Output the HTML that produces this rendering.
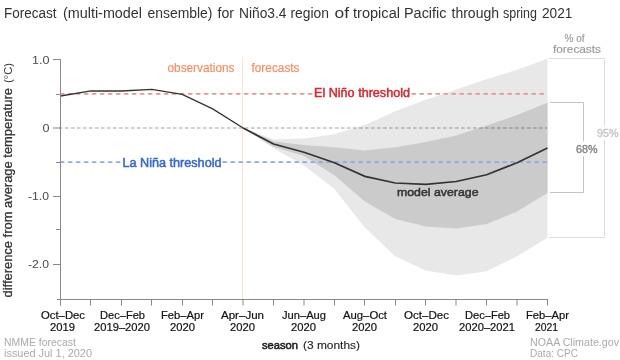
<!DOCTYPE html>
<html><head><meta charset="utf-8"><style>
html,body{margin:0;padding:0;background:#fff;}
svg{display:block;font-family:"Liberation Sans",sans-serif;will-change:transform;}
</style></head><body>
<svg width="620" height="360" viewBox="0 0 620 360">
<rect width="620" height="360" fill="#fff"/>
<g><text x="4.00" y="17.7" font-size="14" font-weight="normal" fill="#333" textLength="52.50" lengthAdjust="spacingAndGlyphs">Forecast</text><text x="63.00" y="17.7" font-size="14" font-weight="normal" fill="#333" textLength="79.00" lengthAdjust="spacingAndGlyphs">(multi-model</text><text x="147.50" y="17.7" font-size="14" font-weight="normal" fill="#333" textLength="65.00" lengthAdjust="spacingAndGlyphs">ensemble)</text><text x="217.50" y="17.7" font-size="14" font-weight="normal" fill="#333" textLength="16.50" lengthAdjust="spacingAndGlyphs">for</text><text x="239.00" y="17.7" font-size="14" font-weight="normal" fill="#333" textLength="47.50" lengthAdjust="spacingAndGlyphs">Niño3.4</text><text x="290.50" y="17.7" font-size="14" font-weight="normal" fill="#333" textLength="38.50" lengthAdjust="spacingAndGlyphs">region</text><text x="334.50" y="17.7" font-size="14" font-weight="normal" fill="#333" textLength="14.50" lengthAdjust="spacingAndGlyphs">of</text><text x="353.00" y="17.7" font-size="14" font-weight="normal" fill="#333" textLength="47.00" lengthAdjust="spacingAndGlyphs">tropical</text><text x="404.00" y="17.7" font-size="14" font-weight="normal" fill="#333" textLength="42.50" lengthAdjust="spacingAndGlyphs">Pacific</text><text x="451.50" y="17.7" font-size="14" font-weight="normal" fill="#333" textLength="47.50" lengthAdjust="spacingAndGlyphs">through</text><text x="503.00" y="17.7" font-size="14" font-weight="normal" fill="#333" textLength="34.00" lengthAdjust="spacingAndGlyphs">spring</text><text x="542.00" y="17.7" font-size="14" font-weight="normal" fill="#333" textLength="30.50" lengthAdjust="spacingAndGlyphs">2021</text></g>
<path d="M243.12,128.00 L273.56,139.30 L304.00,138.50 L334.44,134.20 L364.88,125.00 L395.31,111.20 L425.75,99.80 L456.19,89.40 L486.62,79.20 L517.06,69.80 L547.50,58.70 L547.50,237.70 L517.06,256.30 L486.62,271.20 L456.19,275.60 L425.75,270.40 L395.31,256.30 L364.88,227.60 L334.44,189.00 L304.00,165.50 L273.56,148.30 L243.12,128.00Z" fill="#e8e8e8"/>
<path d="M243.12,128.00 L273.56,141.60 L304.00,145.00 L334.44,147.30 L364.88,150.40 L395.31,147.20 L425.75,142.00 L456.19,135.50 L486.62,125.50 L517.06,115.00 L547.50,102.80 L547.50,193.00 L517.06,211.60 L486.62,224.00 L456.19,228.40 L425.75,226.50 L395.31,219.00 L364.88,201.50 L334.44,175.30 L304.00,156.00 L273.56,146.80 L243.12,128.00Z" fill="#cbcbcb"/>
<line x1="242.5" y1="57" x2="242.5" y2="299" stroke="#fde2d8" stroke-width="1"/>
<line x1="59" y1="128" x2="547" y2="128" stroke="#000" stroke-opacity="0.185" stroke-width="2" stroke-dasharray="3.6 2.4"/>
<line x1="53" y1="128" x2="60" y2="128" stroke="#000" stroke-opacity="0.24" stroke-width="2"/>
<g stroke="#e59696" stroke-width="1.7" stroke-dasharray="4.4 3.6">
<line x1="60" y1="93.8" x2="313" y2="93.8"/><line x1="411.5" y1="93.8" x2="545" y2="93.8"/></g>
<g stroke="#90aade" stroke-width="1.7" stroke-dasharray="4.4 3.6">
<line x1="60" y1="162.1" x2="121" y2="162.1"/><line x1="222.5" y1="162.1" x2="547" y2="162.1"/></g>
<polyline points="60.50,96.00 90.94,90.80 121.38,91.00 151.81,89.40 182.25,94.30 212.69,108.90 243.12,128.00" fill="none" stroke="#333" stroke-width="1.3"/>
<polyline points="243.12,128.00 273.56,144.00 304.00,152.20 334.44,162.80 364.88,176.40 395.31,183.00 425.75,184.40 456.19,181.50 486.62,174.80 517.06,162.70 547.50,148.10" fill="none" stroke="#333" stroke-width="1.7"/>
<g stroke="#888" stroke-width="1" fill="none">
<line x1="60.5" y1="59" x2="60.5" y2="305.5"/>
<line x1="57" y1="299.5" x2="548" y2="299.5"/>
<line x1="60.5" y1="299" x2="60.5" y2="305.5"/><line x1="90.5" y1="299" x2="90.5" y2="305.5"/><line x1="121.5" y1="299" x2="121.5" y2="305.5"/><line x1="151.5" y1="299" x2="151.5" y2="305.5"/><line x1="182.5" y1="299" x2="182.5" y2="305.5"/><line x1="212.5" y1="299" x2="212.5" y2="305.5"/><line x1="243" y1="299" x2="243" y2="305.5"/><line x1="273.5" y1="299" x2="273.5" y2="305.5"/><line x1="304" y1="299" x2="304" y2="305.5"/><line x1="334.5" y1="299" x2="334.5" y2="305.5"/><line x1="364.5" y1="299" x2="364.5" y2="305.5"/><line x1="395.5" y1="299" x2="395.5" y2="305.5"/><line x1="425.5" y1="299" x2="425.5" y2="305.5"/><line x1="456" y1="299" x2="456" y2="305.5"/><line x1="486.5" y1="299" x2="486.5" y2="305.5"/><line x1="517" y1="299" x2="517" y2="305.5"/><line x1="547.5" y1="299" x2="547.5" y2="305.5"/><line x1="53" y1="59.5" x2="60" y2="59.5"/><line x1="56" y1="94.5" x2="60" y2="94.5"/><line x1="56" y1="162.5" x2="60" y2="162.5"/><line x1="53" y1="196.5" x2="60" y2="196.5"/><line x1="56" y1="229.5" x2="60" y2="229.5"/><line x1="53" y1="264.5" x2="60" y2="264.5"/>
</g>
<g fill="#333">
<text x="32.00" y="64" font-size="11" font-weight="normal" fill="#4a4a4a" textLength="17.50" lengthAdjust="spacingAndGlyphs">1.0</text><text x="42.50" y="132" font-size="11" font-weight="normal" fill="#4a4a4a" textLength="7.00" lengthAdjust="spacingAndGlyphs">0</text><text x="28.00" y="200" font-size="11" font-weight="normal" fill="#4a4a4a" textLength="21.00" lengthAdjust="spacingAndGlyphs">-1.0</text><text x="28.00" y="268" font-size="11" font-weight="normal" fill="#4a4a4a" textLength="21.00" lengthAdjust="spacingAndGlyphs">-2.0</text>
</g>
<text transform="translate(12,397.5) rotate(-90)" x="100.00" y="0" font-size="12" fill="#333" stroke="#333" stroke-width="0.3" textLength="209.50" lengthAdjust="spacingAndGlyphs">difference from average temperature</text><text transform="translate(12,183) rotate(-90)" x="100.00" y="0" font-size="11.5" fill="#333" textLength="20.00" lengthAdjust="spacingAndGlyphs">(°C)</text>
<text x="41.00" y="319" font-size="11" font-weight="normal" fill="#111" stroke="#111" stroke-width="0.2" textLength="44.00" lengthAdjust="spacingAndGlyphs">Oct–Dec</text><text x="50.00" y="331" font-size="11" font-weight="normal" fill="#111" stroke="#111" stroke-width="0.2" textLength="25.00" lengthAdjust="spacingAndGlyphs">2019</text><text x="100.00" y="319" font-size="11" font-weight="normal" fill="#111" stroke="#111" stroke-width="0.2" textLength="45.00" lengthAdjust="spacingAndGlyphs">Dec–Feb</text><text x="94.00" y="331" font-size="11" font-weight="normal" fill="#111" stroke="#111" stroke-width="0.2" textLength="56.00" lengthAdjust="spacingAndGlyphs">2019–2020</text><text x="161.00" y="319" font-size="11" font-weight="normal" fill="#111" stroke="#111" stroke-width="0.2" textLength="43.00" lengthAdjust="spacingAndGlyphs">Feb–Apr</text><text x="170.00" y="331" font-size="11" font-weight="normal" fill="#111" stroke="#111" stroke-width="0.2" textLength="25.00" lengthAdjust="spacingAndGlyphs">2020</text><text x="221.00" y="319" font-size="11" font-weight="normal" fill="#111" stroke="#111" stroke-width="0.2" textLength="43.00" lengthAdjust="spacingAndGlyphs">Apr–Jun</text><text x="230.00" y="331" font-size="11" font-weight="normal" fill="#111" stroke="#111" stroke-width="0.2" textLength="25.00" lengthAdjust="spacingAndGlyphs">2020</text><text x="282.00" y="319" font-size="11" font-weight="normal" fill="#111" stroke="#111" stroke-width="0.2" textLength="44.00" lengthAdjust="spacingAndGlyphs">Jun–Aug</text><text x="291.00" y="331" font-size="11" font-weight="normal" fill="#111" stroke="#111" stroke-width="0.2" textLength="25.00" lengthAdjust="spacingAndGlyphs">2020</text><text x="343.00" y="319" font-size="11" font-weight="normal" fill="#111" stroke="#111" stroke-width="0.2" textLength="44.00" lengthAdjust="spacingAndGlyphs">Aug–Oct</text><text x="352.00" y="331" font-size="11" font-weight="normal" fill="#111" stroke="#111" stroke-width="0.2" textLength="25.00" lengthAdjust="spacingAndGlyphs">2020</text><text x="404.00" y="319" font-size="11" font-weight="normal" fill="#111" stroke="#111" stroke-width="0.2" textLength="45.00" lengthAdjust="spacingAndGlyphs">Oct–Dec</text><text x="413.00" y="331" font-size="11" font-weight="normal" fill="#111" stroke="#111" stroke-width="0.2" textLength="25.00" lengthAdjust="spacingAndGlyphs">2020</text><text x="465.00" y="319" font-size="11" font-weight="normal" fill="#111" stroke="#111" stroke-width="0.2" textLength="45.00" lengthAdjust="spacingAndGlyphs">Dec–Feb</text><text x="459.00" y="331" font-size="11" font-weight="normal" fill="#111" stroke="#111" stroke-width="0.2" textLength="56.00" lengthAdjust="spacingAndGlyphs">2020–2021</text><text x="526.00" y="319" font-size="11" font-weight="normal" fill="#111" stroke="#111" stroke-width="0.2" textLength="43.00" lengthAdjust="spacingAndGlyphs">Feb–Apr</text><text x="535.00" y="331" font-size="11" font-weight="normal" fill="#111" stroke="#111" stroke-width="0.2" textLength="23.00" lengthAdjust="spacingAndGlyphs">2021</text>
<text x="167.50" y="71.6" font-size="12" font-weight="normal" fill="#f78b5f" stroke="#f78b5f" stroke-width="0.15" textLength="67.00" lengthAdjust="spacingAndGlyphs">observations</text><text x="251.50" y="71.6" font-size="12" font-weight="normal" fill="#f78b5f" stroke="#f78b5f" stroke-width="0.15" textLength="48.00" lengthAdjust="spacingAndGlyphs">forecasts</text>
<text x="314.00" y="96.8" font-size="12" font-weight="normal" fill="#cf2d35" stroke="#cf2d35" stroke-width="0.5" textLength="96.00" lengthAdjust="spacingAndGlyphs">El Niño threshold</text>
<text x="122.50" y="166.5" font-size="12" font-weight="normal" fill="#3a68c8" stroke="#3a68c8" stroke-width="0.5" textLength="99.00" lengthAdjust="spacingAndGlyphs">La Niña threshold</text>
<text x="397.00" y="196" font-size="11.8" font-weight="normal" fill="#333" stroke="#333" stroke-width="0.5" textLength="81.50" lengthAdjust="spacingAndGlyphs">model average</text>
<text x="564.50" y="42" font-size="11" font-weight="normal" fill="#999" stroke="#999" stroke-width="0.15" textLength="20.00" lengthAdjust="spacingAndGlyphs">% of</text><text x="553.00" y="52.6" font-size="11" font-weight="normal" fill="#999" stroke="#999" stroke-width="0.15" textLength="48.00" lengthAdjust="spacingAndGlyphs">forecasts</text>
<g stroke="#ddd" fill="none" stroke-width="1">
<polyline points="549,58.5 604.5,58.5 604.5,126"/>
<polyline points="604.5,140 604.5,237.5 549,237.5"/>
</g>
<g stroke="#c4c4c4" fill="none" stroke-width="1">
<polyline points="550,102.5 583.5,102.5 583.5,141.5"/>
<polyline points="583.5,156 583.5,192.5 550,192.5"/>
</g>
<text x="597.00" y="137" font-size="11.5" font-weight="normal" fill="#c8c8c8" stroke="#c8c8c8" stroke-width="0.45" textLength="21.50" lengthAdjust="spacingAndGlyphs">95%</text><text x="576.00" y="152.9" font-size="11.5" font-weight="normal" fill="#888" stroke="#888" stroke-width="0.45" textLength="21.50" lengthAdjust="spacingAndGlyphs">68%</text>
<text x="4.00" y="346" font-size="10" font-weight="normal" fill="#aaa" textLength="72.00" lengthAdjust="spacingAndGlyphs">NMME forecast</text><text x="4.00" y="357.4" font-size="10" font-weight="normal" fill="#aaa" textLength="88.00" lengthAdjust="spacingAndGlyphs">issued Jul 1, 2020</text>
<text x="530.00" y="346" font-size="10" font-weight="normal" fill="#aaa" textLength="89.00" lengthAdjust="spacingAndGlyphs">NOAA Climate.gov</text><text x="530.00" y="357.4" font-size="10" font-weight="normal" fill="#aaa" textLength="48.00" lengthAdjust="spacingAndGlyphs">Data: CPC</text>
<text x="262.00" y="348.6" font-size="11" font-weight="normal" fill="#222" stroke="#222" stroke-width="0.55" textLength="36.00" lengthAdjust="spacingAndGlyphs">season</text><text x="303.00" y="348.6" font-size="11" font-weight="normal" fill="#222" stroke="#222" stroke-width="0.1" textLength="57.00" lengthAdjust="spacingAndGlyphs">(3 months)</text>
</svg>
</body></html>
